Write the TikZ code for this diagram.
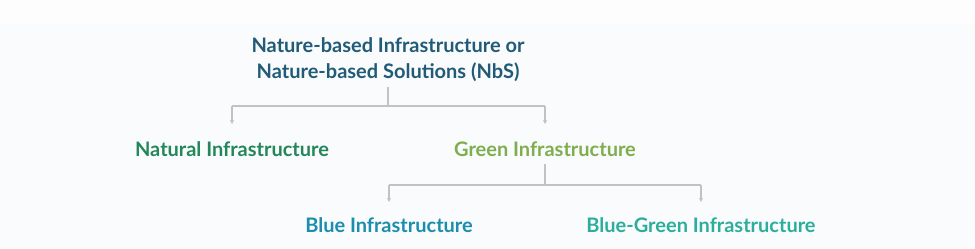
\documentclass[tikz,border=0pt]{standalone}
\usepackage{fontspec}
\setmainfont{Lato}[UprightFont=* Bold]
\usetikzlibrary{arrows.meta}
\definecolor{bgtop}{HTML}{FDFDFD}
\definecolor{bg}{HTML}{F9FBFC}
\definecolor{titlec}{HTML}{215B77}
\definecolor{naturalc}{HTML}{24875A}
\definecolor{greenc}{HTML}{7FAE4E}
\definecolor{bluec}{HTML}{1B8EAE}
\definecolor{bluegreenc}{HTML}{2BAE9C}
\definecolor{linec}{HTML}{C2C2C2}
\tikzset{
  x=1pt,y=1pt,
  lbl/.style={font=\fontsize{20}{26.5}\selectfont, inner sep=0pt, anchor=base},
  conn/.style={draw=linec, line width=1.2pt},
  arr/.style={conn, -{Stealth[length=4pt,width=4pt]}},
}
\begin{document}
\begin{tikzpicture}
\useasboundingbox (0,0) rectangle (975,-249);
\fill[bgtop] (0,0) rectangle (975,-24);
\fill[bg] (0,-24) rectangle (975,-249);
\node[lbl, titlec, align=center] (title) at (388,-78.5) {Nature-based Infrastructure or\\Nature-based Solutions (NbS)};
\node[lbl, naturalc] (natural) at (232,-156) {Natural Infrastructure};
\node[lbl, greenc] (green) at (545,-156) {Green Infrastructure};
\node[lbl, bluec] (blue) at (389,-232) {Blue Infrastructure};
\node[lbl, bluegreenc] (bluegreen) at (701,-232) {Blue-Green Infrastructure};
\coordinate (t0) at (388,-87);
\coordinate (j1) at (388,-106);
\coordinate (g0) at (545,-164);
\coordinate (j2) at (545,-185);
\draw[conn] (t0) -- (j1);
\draw[conn] (j1) -- (natural |- j1) coordinate (nl);
\draw[conn] (j1) -- (green |- j1) coordinate (gr);
\draw[arr] (nl) -- ++(0,-18);
\draw[arr] (gr) -- ++(0,-18);
\draw[conn] (g0) -- (j2);
\draw[conn] (j2) -- (blue |- j2) coordinate (bl);
\draw[conn] (j2) -- (bluegreen |- j2) coordinate (bg);
\draw[arr] (bl) -- ++(0,-17);
\draw[arr] (bg) -- ++(0,-17);
\end{tikzpicture}
\end{document}
